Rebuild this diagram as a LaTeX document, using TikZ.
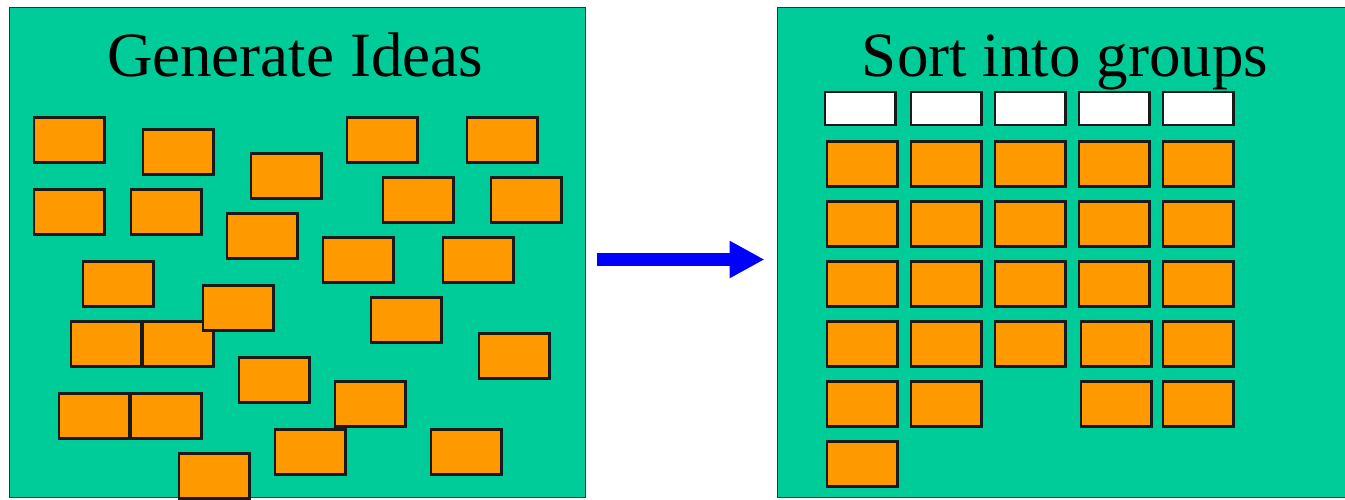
\documentclass[tikz,border=0pt]{standalone}
\usepackage{fontspec}
\setmainfont{Liberation Serif}
\usetikzlibrary{arrows.meta}
\definecolor{panelgreen}{RGB}{0,204,153}
\definecolor{noteorange}{RGB}{255,153,0}

\begin{document}
\begin{tikzpicture}[x=1pt, y=-1pt]
        \tikzstyle{panel} = [rectangle, draw=black!80, line width=1.5pt, fill=panelgreen, minimum width=576pt, minimum height=490pt, inner sep=0pt, outer sep=0pt]
        \tikzstyle{note} = [rectangle, draw=black!90, line width=2.5pt, fill=noteorange, minimum width=70.5pt, minimum height=45pt, inner sep=0pt]
        \tikzstyle{group note} = [note, fill=white, minimum height=33pt]
        \tikzstyle{panel title} = [anchor=base, inner sep=0pt, font=\fontsize{63}{70}\selectfont]
        \tikzstyle{flow} = [-{Triangle[length=35pt, width=35pt]}, line width=13pt, blue]

        \useasboundingbox (0, 0) rectangle (1345, 499);

        % left panel
        \node[panel](ideas) at(297.5, 252.5) {};
        \node[panel title](ideas title) at(295, 76) {Generate Ideas};

        \node[note](i1) at(69, 140) {};
        \node[note](i2) at(178, 152) {};
        \node[note](i3) at(286, 176) {};
        \node[note](i4) at(382, 140) {};
        \node[note](i5) at(502, 140) {};
        \node[note](i6) at(69, 212) {};
        \node[note](i7) at(166, 212) {};
        \node[note](i8) at(418, 200) {};
        \node[note](i9) at(526, 200) {};
        \node[note](i10) at(262, 236) {};
        \node[note](i11) at(358, 260) {};
        \node[note](i12) at(478, 260) {};
        \node[note](i13) at(118, 284) {};
        \node[note](i16) at(106, 344) {};
        \node[note](i17) at(178, 344) {};
        \node[note](i14) at(238, 308) {};
        \node[note](i15) at(406, 320) {};
        \node[note](i18) at(514, 356) {};
        \node[note](i19) at(274, 380) {};
        \node[note](i20) at(370, 404) {};
        \node[note](i21) at(94, 416) {};
        \node[note](i22) at(166, 416) {};
        \node[note](i23) at(310, 452) {};
        \node[note](i24) at(466, 452) {};
        \node[note](i25) at(214, 476) {};

        % right panel
        \node[panel](groups) at(1065.5, 252.5) {};
        \node[panel title](groups title) at(1065, 76) {Sort into groups};

        \node[group note](h1) at(860, 108.5) {};
        \node[group note](h2) at(946, 108.5) {};
        \node[group note](h3) at(1030, 108.5) {};
        \node[group note](h4) at(1114, 108.5) {};
        \node[group note](h5) at(1198, 108.5) {};

        \node[note](g11) at(862, 164) {};
        \node[note](g12) at(946, 164) {};
        \node[note](g13) at(1030, 164) {};
        \node[note](g14) at(1114, 164) {};
        \node[note](g15) at(1198, 164) {};

        \node[note](g21) at(862, 224) {};
        \node[note](g22) at(946, 224) {};
        \node[note](g23) at(1030, 224) {};
        \node[note](g24) at(1114, 224) {};
        \node[note](g25) at(1198, 224) {};

        \node[note](g31) at(862, 284) {};
        \node[note](g32) at(946, 284) {};
        \node[note](g33) at(1030, 284) {};
        \node[note](g34) at(1114, 284) {};
        \node[note](g35) at(1198, 284) {};

        \node[note](g41) at(862, 344) {};
        \node[note](g42) at(946, 344) {};
        \node[note](g43) at(1030, 344) {};
        \node[note](g44) at(1116, 344) {};
        \node[note](g45) at(1198, 344) {};

        \node[note](g51) at(862, 404) {};
        \node[note](g52) at(946, 404) {};
        \node[note](g54) at(1116, 404) {};
        \node[note](g55) at(1198, 404) {};

        \node[note](g61) at(862, 464) {};

        \draw[flow] ([xshift=11pt, yshift=-7pt]ideas.east) -- ([xshift=-13pt, yshift=-7pt]groups.west);
    \end{tikzpicture}
\end{document}
